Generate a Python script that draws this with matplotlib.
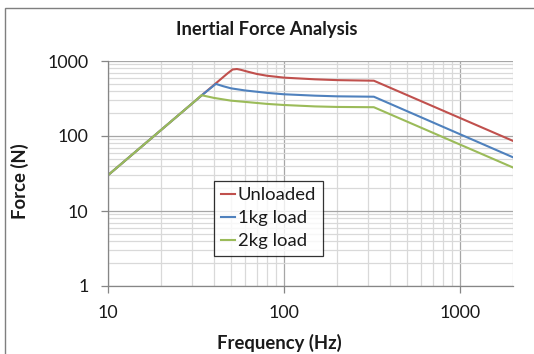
import matplotlib.pyplot as plt
from matplotlib.ticker import LogLocator, FixedLocator, NullFormatter
from matplotlib.patches import Rectangle

plt.rcParams['font.family'] = ['Lato', 'DejaVu Sans']

# frequency (Hz) / force (N)
freq_unloaded = [10, 20, 30, 40, 48, 51, 54, 57, 62, 70, 80, 100, 150, 200, 324, 2000]
force_unloaded = [30, 120, 270, 480, 690, 770, 782, 762, 722, 672, 636, 600, 570, 556, 546, 86]

freq_1kg = [10, 20, 30, 34, 41, 45, 50, 60, 80, 100, 150, 200, 324, 2000]
force_1kg = [30, 120, 270, 347, 495, 462, 432, 405, 376, 360, 345, 338, 334, 52]

freq_2kg = [10, 20, 30, 34, 40, 50, 60, 80, 100, 150, 200, 324, 2000]
force_2kg = [30, 120, 270, 350, 322, 296, 285, 268, 259, 248, 244, 242, 38]

x_ticks = [10, 100, 1000]
y_ticks = [1, 10, 100, 1000]

fig = plt.figure(figsize=(5.34, 3.54), dpi=100)
ax = fig.add_axes([108 / 534, 1 - 286 / 354, 405 / 534, 225 / 354])

ax.set_xscale('log')
ax.set_yscale('log')
ax.set_xlim(10, 2000)
ax.set_ylim(1, 1000)

ax.plot(freq_unloaded, force_unloaded, color='#C0504D', lw=1.5, label='Unloaded')
ax.plot(freq_1kg, force_1kg, color='#4F81BD', lw=1.5, label='1kg load')
ax.plot(freq_2kg, force_2kg, color='#9BBB59', lw=1.5, label='2kg load')

ax.xaxis.set_major_locator(FixedLocator(x_ticks))
ax.yaxis.set_major_locator(FixedLocator(y_ticks))
ax.set_xticklabels([str(v) for v in x_ticks])
ax.set_yticklabels([str(v) for v in y_ticks])
ax.xaxis.set_minor_locator(LogLocator(base=10, subs=range(2, 10), numticks=20))
ax.yaxis.set_minor_locator(LogLocator(base=10, subs=range(2, 10), numticks=20))
ax.xaxis.set_minor_formatter(NullFormatter())
ax.yaxis.set_minor_formatter(NullFormatter())

ax.grid(which='major', color='#a6a6a6', lw=0.9)
ax.grid(which='minor', color='#d9d9d9', lw=0.9)
ax.set_axisbelow(True)

ax.tick_params(which='major', length=5, width=0.9, color='#868686', pad=9,
               labelsize=12.8, labelcolor='#1a1a1a')
ax.tick_params(which='minor', length=0)
for s in ['top', 'right']:
    ax.spines[s].set_visible(False)
for s in ['left', 'bottom']:
    ax.spines[s].set_color('#868686')
    ax.spines[s].set_linewidth(0.9)

leg = ax.legend(loc='upper left', bbox_to_anchor=(106 / 405, 1 - 119.7 / 225),
                fontsize=13.3, frameon=True, fancybox=False, borderaxespad=0,
                handlelength=0.8, handletextpad=0.12, labelspacing=0.38,
                borderpad=0.36)
leg.get_frame().set_edgecolor('black')
leg.get_frame().set_linewidth(0.9)
for t in leg.get_texts():
    t.set_color('#1a1a1a')

fig.text(267 / 534, 1 - 29 / 354, 'Inertial Force Analysis', ha='center', va='center',
         fontsize=13.2, fontweight='bold', color='#1a1a1a')
fig.text(279 / 534, 1 - 343 / 354, 'Frequency (Hz)', ha='center', va='center',
         fontsize=13.3, fontweight='bold', color='#1a1a1a')
fig.text(20 / 534, 1 - 181 / 354, 'Force (N)', ha='center', va='center', rotation=90,
         fontsize=13.3, fontweight='bold', color='#1a1a1a')

# outer chart border
fig.patches.append(Rectangle((5 / 534, -0.1), 1, 1 - 8 / 354 + 0.1, transform=fig.transFigure,
                             fill=False, edgecolor='#7f7f7f', lw=1.0))

fig.savefig('out.png', dpi=100)
